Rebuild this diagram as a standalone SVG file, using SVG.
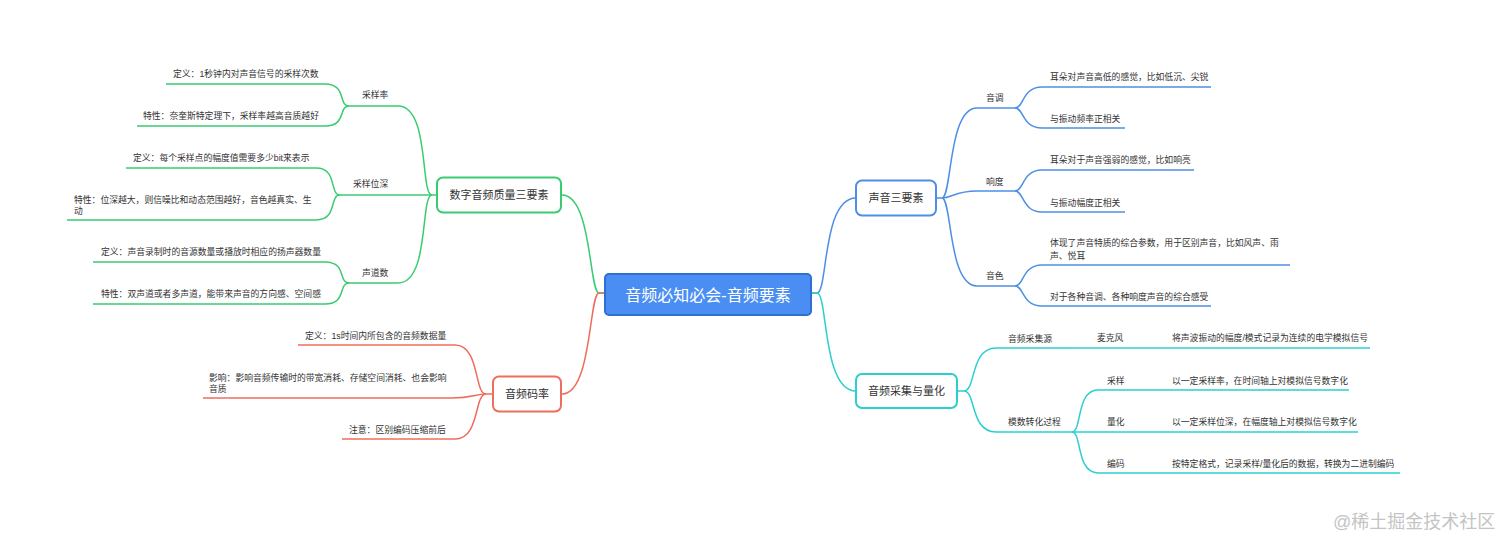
<svg xmlns="http://www.w3.org/2000/svg" width="1512" height="550" viewBox="0 0 1512 550">
<style>
text{font-family:"Liberation Sans","Noto Sans CJK SC",sans-serif;fill:#333;}
.t{font-size:8.8px;}
.n{font-size:11px;text-anchor:middle;}
.c{font-size:16px;text-anchor:middle;fill:#fff;}
.wm{font-size:18px;fill:#c4c4c4;}
path{fill:none;stroke-width:1.5;}
.g{stroke:#38cc72;}
.r{stroke:#ef6d5e;}
.b{stroke:#4d8fe6;}
.q{stroke:#2ccfcf;}
.box{fill:#fff;stroke-width:2;}
</style>
<rect width="1512" height="550" fill="#fff"/>
<g id="connectors">
<path class="g" d="M605,293 L599,293 C589,293 592,195 562,195"/>
<path class="r" d="M605,293 L599,293 C589,293 592,394 562,394"/>
<path class="b" d="M811,293 L817,293 C828,293 822,198 856,198"/>
<path class="q" d="M811,293 L817,293 C828,293 822,391 856,391"/>
<path class="g" d="M437,195 L432,195 C420,195 430,106 398,106 L349,106"/>
<path class="g" d="M432,195 L340,195"/>
<path class="g" d="M432,195 C420,195 430,283 398,283 L349,283"/>
<path class="g" d="M349,106 C338,106 347,84 325,84 L166,84"/>
<path class="g" d="M349,106 C338,106 347,126 325,126 L137,126"/>
<path class="g" d="M340,195 C329,195 338,168 316,168 L126,168"/>
<path class="g" d="M340,195 C329,195 338,220 316,220 L67,220"/>
<path class="g" d="M349,283 C338,283 347,262 325,262 L93,262"/>
<path class="g" d="M349,283 C338,283 347,304 325,304 L93,304"/>
<path class="r" d="M493,394 L486,394 C474,394 480,345 455,345 L298,345"/>
<path class="r" d="M486,394 C476,394 472,398 452,398 L203,398"/>
<path class="r" d="M486,394 C474,394 480,439 455,439 L342,439"/>
<path class="b" d="M936,198 L942,198 C952,198 948,108 977,108 L1015,108"/>
<path class="b" d="M942,198 C952,198 955,191 977,191 L1015,191"/>
<path class="b" d="M942,198 C952,198 948,286 977,286 L1015,286"/>
<path class="b" d="M1015,108 C1024,108 1022,87 1042,87 L1211,87"/>
<path class="b" d="M1015,108 C1024,108 1022,128 1042,128 L1125,128"/>
<path class="b" d="M1015,191 C1024,191 1022,170 1042,170 L1194,170"/>
<path class="b" d="M1015,191 C1024,191 1022,212 1042,212 L1125,212"/>
<path class="b" d="M1015,286 C1024,286 1022,265 1042,265 L1290,265"/>
<path class="b" d="M1015,286 C1024,286 1022,306 1042,306 L1211,306"/>
<path class="q" d="M957,391 L964,391 C976,391 970,348 996,348 L1072,348"/>
<path class="q" d="M1072,348 L1140,348"/>
<path class="q" d="M1140,348 L1370,348"/>
<path class="q" d="M964,391 C976,391 970,432 996,432 L1072,432"/>
<path class="q" d="M1072,432 C1082,432 1076,390 1098,390 L1140,390 L1349,390"/>
<path class="q" d="M1072,432 L1140,432 L1358,432"/>
<path class="q" d="M1072,432 C1082,432 1076,473 1098,473 L1140,473 L1400,473"/>
</g>
<g id="center">
<rect x="605" y="274" width="206" height="41" rx="4" fill="#4a8ef4" stroke="#2f6fd2" stroke-width="2"/>
<text class="c" x="708" y="300.5">音频必知必会-音频要素</text>
</g>
<g id="n-quality">
<rect class="box" x="437" y="177.5" width="124" height="35" rx="6" stroke="#38cc72"/>
<text class="n" x="499" y="199">数字音频质量三要素</text>
</g>
<g id="n-rate"><text class="t" x="362" y="98">采样率</text></g>
<g id="n-rate-def"><text class="t" x="173" y="77">定义：1秒钟内对声音信号的采样次数</text></g>
<g id="n-rate-feat"><text class="t" x="143" y="119">特性：奈奎斯特定理下，采样率越高音质越好</text></g>
<g id="n-depth"><text class="t" x="353" y="187">采样位深</text></g>
<g id="n-depth-def"><text class="t" x="133" y="161">定义：每个采样点的幅度值需要多少bit来表示</text></g>
<g id="n-depth-feat"><text class="t" x="74" y="203">特性：位深越大，则信噪比和动态范围越好，音色越真实、生</text><text class="t" x="74" y="214">动</text></g>
<g id="n-channel"><text class="t" x="362" y="276">声道数</text></g>
<g id="n-channel-def"><text class="t" x="101" y="255">定义：声音录制时的音源数量或播放时相应的扬声器数量</text></g>
<g id="n-channel-feat"><text class="t" x="101" y="297">特性：双声道或者多声道，能带来声音的方向感、空间感</text></g>
<g id="n-bitrate">
<rect class="box" x="493" y="376.5" width="68" height="35" rx="6" stroke="#ef6d5e"/>
<text class="n" x="527" y="398">音频码率</text>
</g>
<g id="n-bitrate-def"><text class="t" x="305" y="339">定义：1s时间内所包含的音频数据量</text></g>
<g id="n-bitrate-eff"><text class="t" x="209" y="381">影响：影响音频传输时的带宽消耗、存储空间消耗、也会影响</text><text class="t" x="209" y="392">音质</text></g>
<g id="n-bitrate-note"><text class="t" x="349" y="433">注意：区别编码压缩前后</text></g>
<g id="n-sound">
<rect class="box" x="856" y="180.5" width="80" height="35" rx="6" stroke="#4d8fe6"/>
<text class="n" x="896" y="202">声音三要素</text>
</g>
<g id="n-pitch"><text class="t" x="986" y="101">音调</text></g>
<g id="n-pitch-1"><text class="t" x="1050" y="80">耳朵对声音高低的感觉，比如低沉、尖锐</text></g>
<g id="n-pitch-2"><text class="t" x="1050" y="122">与振动频率正相关</text></g>
<g id="n-loud"><text class="t" x="986" y="185">响度</text></g>
<g id="n-loud-1"><text class="t" x="1050" y="163">耳朵对于声音强弱的感觉，比如响亮</text></g>
<g id="n-loud-2"><text class="t" x="1050" y="206">与振动幅度正相关</text></g>
<g id="n-timbre"><text class="t" x="986" y="279">音色</text></g>
<g id="n-timbre-1"><text class="t" x="1050" y="246">体现了声音特质的综合参数，用于区别声音，比如风声、雨</text><text class="t" x="1050" y="259">声、悦耳</text></g>
<g id="n-timbre-2"><text class="t" x="1050" y="300">对于各种音调、各种响度声音的综合感受</text></g>
<g id="n-capture">
<rect class="box" x="856" y="374" width="101" height="34" rx="6" stroke="#2ccfcf"/>
<text class="n" x="906.5" y="395">音频采集与量化</text>
</g>
<g id="n-source"><text class="t" x="1008" y="342">音频采集源</text></g>
<g id="n-mic"><text class="t" x="1097" y="341">麦克风</text></g>
<g id="n-mic-desc"><text class="t" x="1172" y="341">将声波振动的幅度/模式记录为连续的电学模拟信号</text></g>
<g id="n-adc"><text class="t" x="1008" y="425">模数转化过程</text></g>
<g id="n-sample"><text class="t" x="1107" y="384">采样</text></g>
<g id="n-sample-desc"><text class="t" x="1172" y="384">以一定采样率，在时间轴上对模拟信号数字化</text></g>
<g id="n-quant"><text class="t" x="1107" y="425">量化</text></g>
<g id="n-quant-desc"><text class="t" x="1172" y="425">以一定采样位深，在幅度轴上对模拟信号数字化</text></g>
<g id="n-encode"><text class="t" x="1107" y="467">编码</text></g>
<g id="n-encode-desc"><text class="t" x="1172" y="467">按特定格式，记录采样/量化后的数据，转换为二进制编码</text></g>
<text class="wm" x="1333" y="528">@稀土掘金技术社区</text>
</svg>
